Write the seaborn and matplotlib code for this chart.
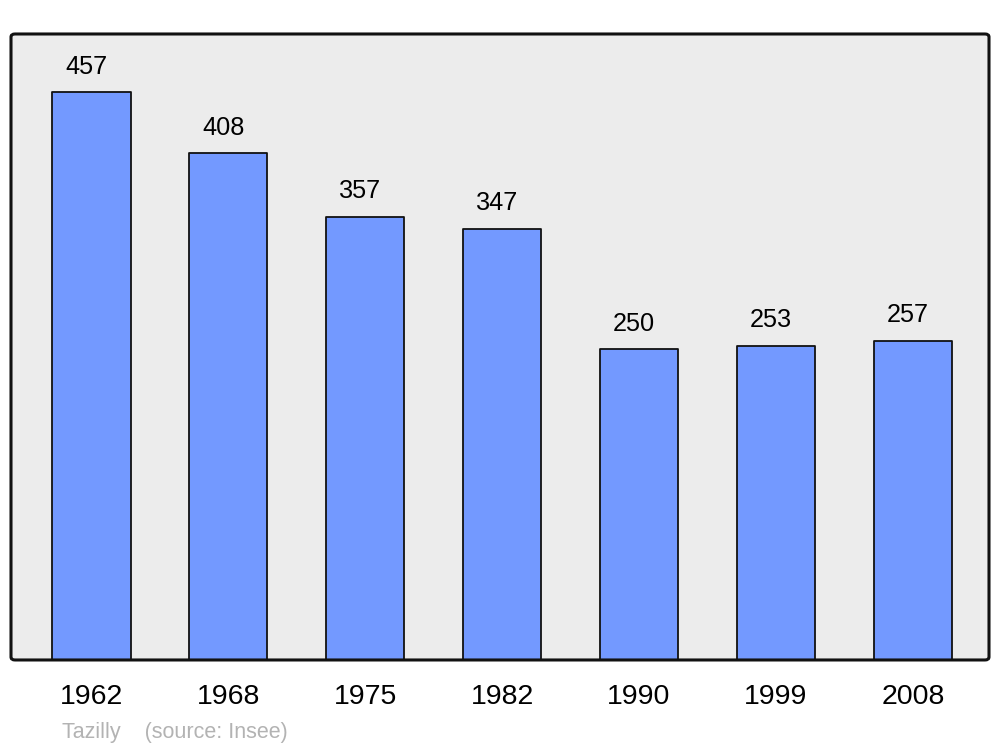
import numpy as np
import pandas as pd
import seaborn as sns
import matplotlib.pyplot as plt
from matplotlib.patches import FancyBboxPatch

years = ["1962", "1968", "1975", "1982", "1990", "1999", "2008"]
population = [457, 408, 357, 347, 250, 253, 257]

df = pd.DataFrame({"year": years, "pop": population})

sns.set_theme(style="white")
plt.rcParams["font.family"] = ["Liberation Sans", "DejaVu Sans"]

fig = plt.figure(figsize=(10, 7.47), dpi=100)
ax = fig.add_axes([0.011, 0.1165, 0.978, 0.838])
ax.set_facecolor("none")

# rounded frame: grey fill behind the bars, black outline on top
box = dict(boxstyle="round,pad=0,rounding_size=0.004", transform=fig.transFigure)
fig.patches.append(FancyBboxPatch((0.011, 0.1165), 0.978, 0.838, facecolor="#ececec",
                                  edgecolor="none", zorder=-1, **box))
fig.patches.append(FancyBboxPatch((0.011, 0.1165), 0.978, 0.838, facecolor="none",
                                  edgecolor="#111111", linewidth=2.2, zorder=5, **box))

sns.barplot(data=df, x="year", y="pop", color="#7399ff", width=0.575, saturation=1,
            edgecolor="#111111", linewidth=1.3, ax=ax)
for p in ax.patches:
    p.set_joinstyle("round")

for i, v in enumerate(population):
    ax.text(i - 0.036, v + 15, str(v), ha="center", va="baseline", fontsize=18.2, color="black")

ax.set_xlim(-0.585, 6.555)
ax.set_ylim(0, 504)
for s in ax.spines.values():
    s.set_visible(False)
ax.set_yticks([])
ax.set_xlabel("")
ax.set_ylabel("")
ax.tick_params(axis="x", length=0, labelsize=20.5, pad=17, colors="black")
for t in ax.get_xticklabels():
    t.set_x(t.get_position()[0])

fig.text(0.062, 0.012, "Tazilly    (source: Insee)", fontsize=15.5, color="#b3b3b3", va="baseline")

plt.savefig("out.png", dpi=100)
